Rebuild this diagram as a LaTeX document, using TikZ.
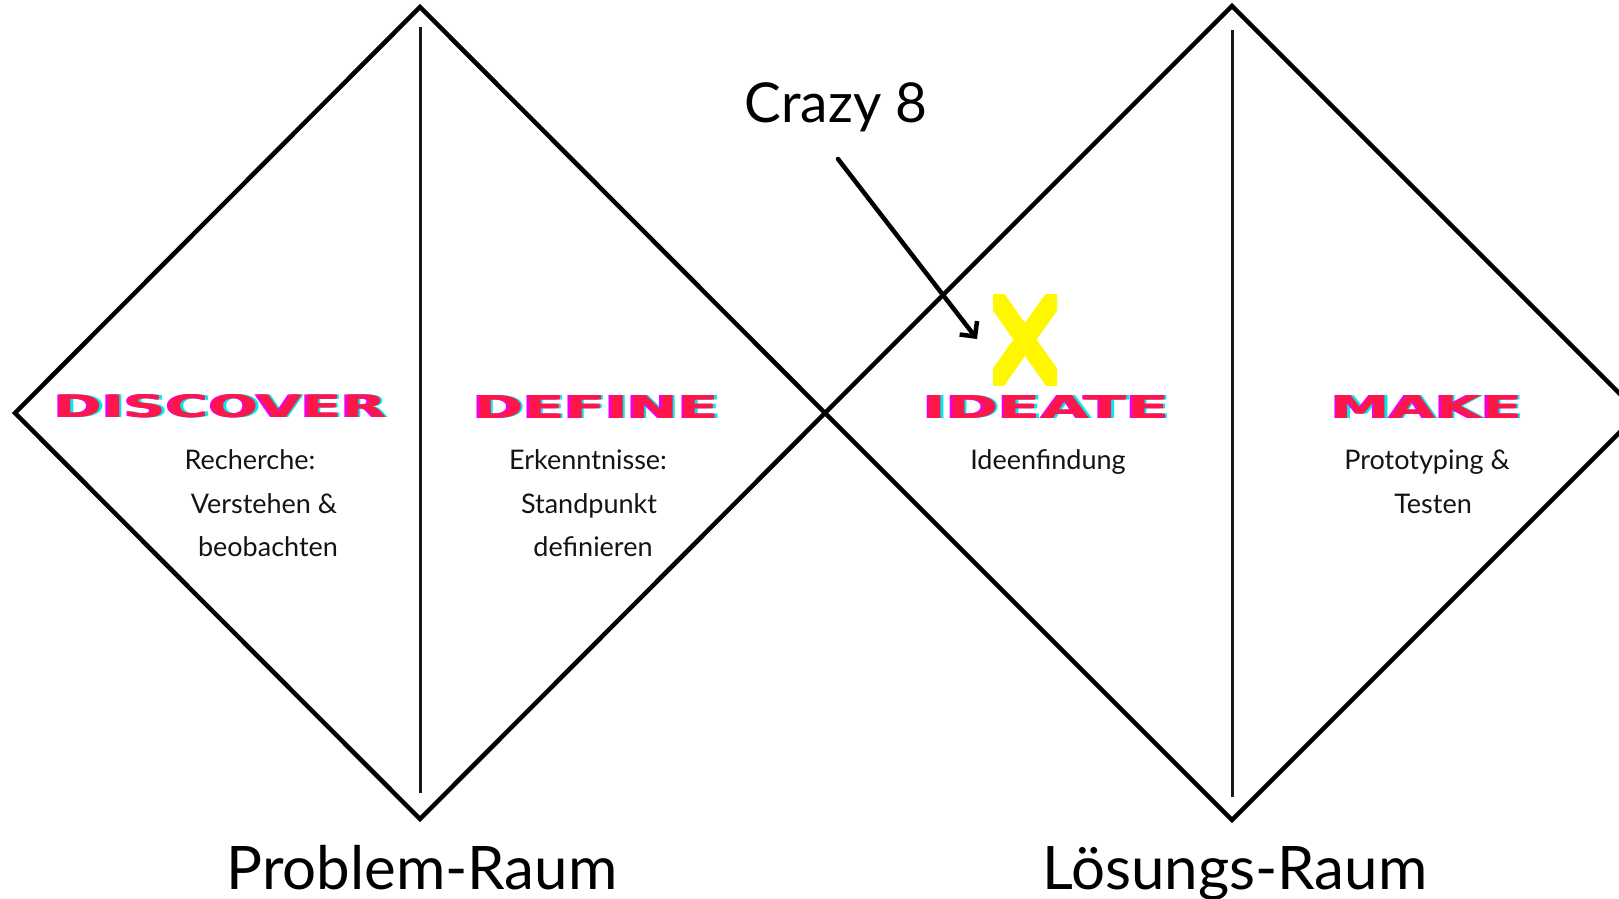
\documentclass[tikz,border=0pt]{standalone}
\usepackage{fontspec}
\usepackage{graphicx}
\setmainfont{Lato}
\newfontfamily\titlefont{DejaVu Sans}
\usetikzlibrary{arrows.meta}
\definecolor{glred}{RGB}{255,22,72}
\definecolor{glmag}{RGB}{240,0,230}
\definecolor{glcyan}{RGB}{0,235,240}
\definecolor{xyellow}{RGB}{255,247,0}
\definecolor{txt}{RGB}{20,20,20}
\newcommand{\gtitle}[5]{%
  \node[text=glcyan, inner sep=0pt] at (#2+2.5,#3) {\resizebox{#4pt}{23pt}{\titlefont\bfseries #5}};
  \node[text=glmag, inner sep=0pt] at (#2-2.5,#3) {\resizebox{#4pt}{23pt}{\titlefont\bfseries #5}};
  \node[text=glred, inner sep=0pt] (#1) at (#2,#3) {\resizebox{#4pt}{23pt}{\titlefont\bfseries #5}};
}
\begin{document}
\begin{tikzpicture}[x=1pt,y=-1pt,
  diam/.style={line width=4.5pt, line join=miter, draw=black},
  divider/.style={line width=3pt, draw=black!90},
  sub/.style={anchor=base, inner sep=0pt, text=txt, font=\fontsize{27}{31}\selectfont},
  big/.style={anchor=base, inner sep=0pt, text=black, font=\fontsize{60}{70}\selectfont},
  mid/.style={anchor=base, inner sep=0pt, text=black, font=\fontsize{55}{62}\selectfont}]
\useasboundingbox (0,0) rectangle (1619,899);
\clip (0,0) rectangle (1619,899);
\fill[white] (0,0) rectangle (1619,899);
% diamonds
\coordinate (L1) at (15,413);
\coordinate (T1) at (420,7);
\coordinate (C) at (825,413);
\coordinate (B1) at (420,819);
\coordinate (T2) at (1232,6);
\coordinate (R2) at (1639,413);
\coordinate (B2) at (1232,820);
\draw[diam] (L1) -- (T1) -- (C) -- (B1) -- cycle;
\draw[diam] (C) -- (T2) -- (R2) -- (B2) -- cycle;
% dividers
\coordinate (d1a) at (420,27);
\coordinate (d1b) at (420,793);
\coordinate (d2a) at (1232,30);
\coordinate (d2b) at (1232,797);
\draw[divider] (d1a) -- (d1b);
\draw[divider] (d2a) -- (d2b);
% titles
\gtitle{discover}{221}{406.5}{332}{DISCOVER}
\gtitle{define}{597}{406.5}{245}{DEFINE}
\gtitle{ideate}{1047}{406.5}{246}{IDEATE}
\gtitle{make}{1427}{406.5}{191}{MAKE}
% sub texts
\node[sub] (s1a) at (250,469) {Recherche:};
\node[sub] (s1b) at (264,513) {Verstehen \&};
\node[sub] (s1c) at (268,556) {beobachten};
\node[sub] (s2a) at (588,469) {Erkenntnisse:};
\node[sub] (s2b) at (589,513) {Standpunkt};
\node[sub] (s2c) at (593,556) {definieren};
\node[sub] (s3a) at (1048,469) {Ideenfindung};
\node[sub] (s4a) at (1427,469) {Prototyping \&};
\node[sub] (s4b) at (1433,513) {Testen};
% bottom labels
\node[big] (prob) at (422,889) {Problem-Raum};
\node[big] (loes) at (1235,889) {Lösungs-Raum};
% Crazy 8
\node[mid] (crazy) at (836,122) {Crazy 8};
% yellow X
\begin{scope}
\clip (993,294) rectangle (1057,385);
\node[inner sep=0pt, minimum width=64pt, minimum height=91pt] (xmark) at (1025,339.5) {};
\draw[xyellow, line width=19pt] (xmark.north west) -- (xmark.south east)
                                 (xmark.north east) -- (xmark.south west);
\end{scope}
% arrow
\coordinate (a1) at (838,159);
\coordinate (a2) at (977,339);
\draw[line width=4.5pt, line cap=round, -{Straight Barb[length=11pt,width=22pt,line width=4.5pt]}] (a1) -- (a2);
\end{tikzpicture}
\end{document}
